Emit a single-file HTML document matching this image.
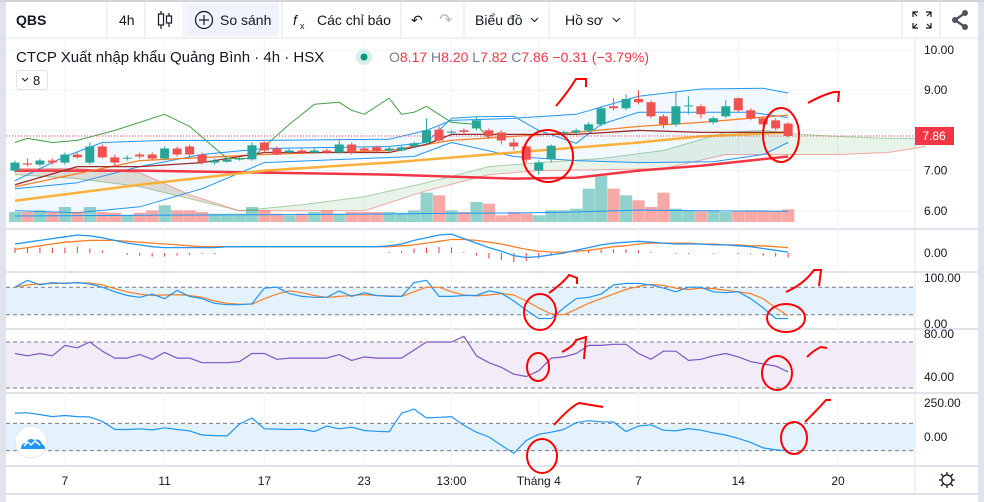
<!DOCTYPE html>
<html><head><meta charset="utf-8">
<style>
html,body{margin:0;padding:0;background:#fff;}
body{width:984px;height:502px;overflow:hidden;position:relative;font-family:"Liberation Sans","Noto Sans CJK SC",sans-serif;}
svg{position:absolute;left:0;top:0;}
.tb{font-size:14px;fill:#131722;}
.ax{font-size:12px;fill:#131722;}
</style></head>
<body>
<svg id="chart" width="984" height="502" viewBox="0 0 984 502">
<rect x="0" y="0" width="984" height="502" fill="#fff"/>
<rect x="0" y="0" width="6" height="502" fill="#e0e3eb"/>
<rect x="978" y="0" width="6" height="502" fill="#e0e3eb"/>
<rect x="0" y="0" width="984" height="2" fill="#d1d4dc"/>
<g>
<rect x="186" y="3" width="93" height="33" fill="#f0f3fa"/>
<line x1="6" y1="38" x2="978" y2="38" stroke="#e0e3eb"/>
<g stroke="#e0e3eb">
<line x1="107" y1="2" x2="107" y2="38"/><line x1="145" y1="2" x2="145" y2="38"/><line x1="184" y1="2" x2="184" y2="38"/>
<line x1="282" y1="2" x2="282" y2="38"/><line x1="401" y1="2" x2="401" y2="38"/><line x1="464" y1="2" x2="464" y2="38"/>
<line x1="549" y1="2" x2="549" y2="38"/><line x1="635" y1="2" x2="635" y2="38"/><line x1="902" y1="2" x2="902" y2="38"/><line x1="940" y1="2" x2="940" y2="38"/>
</g>
<text x="16" y="25" class="tb" font-weight="bold">QBS</text>
<text x="119" y="25" class="tb">4h</text>
<g stroke="#131722" fill="none" stroke-width="1.2">
<line x1="161" y1="11" x2="161" y2="29"/><rect x="158.5" y="14" width="5" height="11" fill="#fff"/>
<line x1="169" y1="13" x2="169" y2="27"/><rect x="166.5" y="16" width="5" height="7" fill="#fff"/>
</g>
<g>
<circle cx="204" cy="20" r="8.5" fill="none" stroke="#131722" stroke-width="1.2"/>
<line x1="199" y1="20" x2="209" y2="20" stroke="#131722" stroke-width="1.2"/><line x1="204" y1="15" x2="204" y2="25" stroke="#131722" stroke-width="1.2"/>
<text x="220" y="25" class="tb">So sánh</text></g>
<g>
<text x="293" y="25" class="tb" font-style="italic" font-size="17">f</text><text x="300" y="29" font-size="9" fill="#131722">x</text>
<text x="317" y="25" class="tb">Các chỉ báo</text></g>
<text x="411" y="25" class="tb" font-size="16">↶</text>
<text x="439" y="25" font-size="16" style="fill:#b2b5be">↷</text>
<g><text x="475" y="25" class="tb">Biểu đồ</text><path d="M531 18 l3.5 3.5 l3.5 -3.5" fill="none" stroke="#131722"/></g>
<g><text x="565" y="25" class="tb">Hồ sơ</text><path d="M613 18 l3.5 3.5 l3.5 -3.5" fill="none" stroke="#131722"/></g>
<g stroke="#131722" stroke-width="1.2" fill="none">
<path d="M913 17 v-5 h5 M913 12 l4 4 M931 17 v-5 h-5 M931 12 l-4 4 M913 23 v5 h5 M913 28 l4 -4 M931 23 v5 h-5 M931 28 l-4 -4"/></g>
<g fill="#50535e">
<circle cx="955" cy="20" r="3"/><circle cx="965" cy="13" r="3"/><circle cx="965" cy="27" r="3"/>
<path d="M955 20 L965 13 M955 20 L965 27" stroke="#50535e" stroke-width="2.4"/></g>
</g>
<line x1="915" y1="38" x2="915" y2="493" stroke="#e0e3eb"/>
<g stroke="#e0e3eb" stroke-width="2">
<line x1="6" y1="229" x2="978" y2="229"/><line x1="6" y1="272" x2="978" y2="272"/><line x1="6" y1="329" x2="978" y2="329"/><line x1="6" y1="393" x2="978" y2="393"/><line x1="6" y1="466" x2="978" y2="466"/><line x1="6" y1="494" x2="978" y2="494"/>
</g>
<g id="grid"></g>
<g id="panes"></g>
<g id="main"></g>
<g id="osc"></g>
<text x="16" y="62" font-size="15" fill="#131722">CTCP Xuất nhập khẩu Quảng Bình · 4h · HSX</text>
<circle cx="364" cy="57" r="8" fill="#d6efed"/><circle cx="364" cy="57" r="3.5" fill="#089981"/>
<text x="389" y="62" font-size="14" fill="#787b86">O<tspan fill="#f23645">8.17</tspan> H<tspan fill="#f23645">8.20</tspan> L<tspan fill="#f23645">7.82</tspan> C<tspan fill="#f23645">7.86 −0.31 (−3.79%)</tspan></text>
<g><rect x="16.5" y="70.5" width="31" height="19" rx="3" fill="#fff" stroke="#e0e3eb"/>
<path d="M22 78 l3 3 l3 -3" fill="none" stroke="#131722"/><text x="33" y="85" font-size="13" fill="#131722">8</text></g>
<line x1="6" y1="136" x2="915" y2="136" stroke="#f23645" stroke-dasharray="1,2"/>
<rect x="915" y="127" width="39" height="18" fill="#f23645"/>
<text x="934" y="140" font-size="12" fill="#fff" text-anchor="middle">7.86</text>
<g><circle cx="31" cy="442" r="16" fill="#fff" stroke="#e0e3eb"/>
<path d="M21 449 q0 -6 5 -6 q3 -6 8 -3 q6 -2 8 4 q3 1 3 5 z" fill="#2196f3"/><path d="M24 446 l4 -4 l3 3 l4 -4 l5 4" stroke="#fff" fill="none" stroke-width="1.5"/></g>
<g><circle cx="947" cy="480" r="5" fill="none" stroke="#131722" stroke-width="1.3"/>
<path d="M947 472v3M947 485v3M939 480h3M952 480h3M941 474l2 2M951 484l2 2M941 486l2-2M951 476l2-2" stroke="#131722" stroke-width="1.3"/></g>
<g fill="none" stroke="#ff0000" stroke-width="2">
<ellipse cx="548" cy="156" rx="25" ry="26" transform="rotate(-10 548 156)"/>
<ellipse cx="781" cy="135" rx="18" ry="27"/>
<path d="M556 106 q12 -14 20 -27 l10 0 l0 8"/><path d="M808 103 q14 -8 26 -11 l5 0 l-1 10"/>
<ellipse cx="540" cy="312" rx="16" ry="18"/><ellipse cx="786" cy="318" rx="19" ry="14"/>
<path d="M549 293 q14 -10 20 -18 l8 3 l0 6"/><path d="M786 292 q18 -8 28 -22 l7 0 l-2 16"/>
<ellipse cx="538" cy="367" rx="11" ry="14"/><ellipse cx="777" cy="373" rx="15" ry="17"/>
<path d="M562 352 q12 -6 14 -12 l10 -3 l-2 22"/><path d="M807 357 q7 -7 14 -10 l6 1"/>
<ellipse cx="542" cy="456" rx="15" ry="17"/><ellipse cx="794" cy="438" rx="13" ry="16"/>
<path d="M554 425 q16 -18 25 -22 l24 4"/><path d="M805 422 q14 -14 21 -22 l5 0"/>
</g>
<g id="xlabels"></g>
<g id="ylabels"></g>
</svg>
<script>
// ===== DATA =====
const candleOpen  = [7.0,7.18,7.15,7.25,7.2,7.4,7.2,7.6,7.33,7.3,7.4,7.4,7.3,7.55,7.6,7.4,7.2,7.22,7.28,7.28,7.7,7.55,7.45,7.5,7.45,7.5,7.45,7.65,7.55,7.58,7.5,7.5,7.6,7.7,8.02,7.95,8.0,8.05,8.0,7.95,7.7,7.6,7.0,7.28,7.93,7.95,8.0,8.15,8.6,8.55,8.78,8.7,8.35,8.15,8.6,8.6,8.2,8.35,8.8,8.5,8.3,8.25,8.17];
const candleClose = [7.2,7.15,7.25,7.2,7.4,7.33,7.6,7.33,7.2,7.32,7.35,7.3,7.55,7.4,7.4,7.2,7.25,7.28,7.3,7.63,7.5,7.4,7.5,7.45,7.5,7.45,7.65,7.45,7.5,7.5,7.55,7.58,7.68,8.0,7.75,7.97,7.96,8.25,7.85,7.75,7.6,7.27,7.2,7.62,7.96,8.0,8.15,8.55,8.55,8.78,8.7,8.35,8.15,8.6,8.62,8.4,8.3,8.6,8.5,8.3,8.15,8.05,7.86];
const candleHigh  = [7.25,7.3,7.3,7.3,7.45,7.45,7.7,7.65,7.4,7.38,7.45,7.45,7.6,7.6,7.65,7.45,7.3,7.32,7.35,7.7,7.72,7.6,7.55,7.55,7.55,7.55,7.75,7.7,7.6,7.62,7.6,7.62,7.72,8.3,8.1,8.0,8.05,8.35,8.05,8.0,7.8,7.65,7.25,7.65,8.0,8.05,8.2,8.6,8.8,8.9,9.0,8.75,8.4,8.95,8.85,8.65,8.35,8.75,8.82,8.55,8.35,8.3,8.2];
const candleLow   = [6.95,7.1,7.1,7.15,7.15,7.3,7.15,7.3,7.1,7.25,7.3,7.25,7.28,7.35,7.35,7.15,7.15,7.2,7.25,7.25,7.45,7.38,7.42,7.42,7.42,7.42,7.42,7.4,7.45,7.45,7.45,7.48,7.55,7.65,7.7,7.9,7.9,8.0,7.8,7.65,7.5,7.2,6.9,7.2,7.85,7.9,7.95,8.1,8.5,8.5,8.65,8.3,8.05,8.1,8.4,8.3,8.15,8.3,8.45,8.25,8.1,8.0,7.82];
const volume = [30,30,35,30,45,30,45,30,28,22,28,35,50,35,35,30,25,25,25,45,35,25,20,25,30,35,25,30,30,30,30,28,35,88,80,35,30,60,55,20,30,25,20,35,35,40,100,138,100,80,65,45,88,40,35,32,35,30,32,35,35,33,38];
const volMAIdx = [0,10,20,30,35,40,45,50,55,62];
const volMAVal = [18,20,22,24,26,27,30,36,34,32];
const bbUpIdx = [0,4,7,12,20,30,33,35,40,45,50,55,60,62];
const bbUpVal = [6.75,7.35,7.7,7.75,7.75,7.78,8.0,8.25,8.3,8.4,8.85,9.03,9.05,8.93];
const bbMidIdx = [0,5,10,15,20,30,33,35,37,40,42,45,47,50,55,59,62];
const bbMidVal = [6.55,6.7,7.1,7.4,7.55,7.6,7.7,8.3,8.34,8.35,8.0,7.68,8.15,8.45,8.45,8.45,8.32];
const bbLoIdx = [0,5,10,15,20,28,32,35,40,45,50,56,60,62];
const bbLoVal = [6.0,5.95,6.1,6.55,7.2,7.3,7.35,7.7,7.35,7.25,7.2,7.22,7.4,7.7];
const maOrIdx = [0,10,20,30,35,40,45,50,55,62];
const maOrVal = [6.6,7.25,7.4,7.5,7.75,7.85,7.95,8.1,8.2,8.38];
const maYeIdx = [0,10,20,30,40,50,55,62];
const maYeVal = [6.25,6.65,7.0,7.2,7.45,7.7,7.85,7.95];
const maRdIdx = [0,10,20,30,40,45,50,55,62];
const maRdVal = [7.0,7.0,6.95,6.9,6.8,6.82,7.0,7.12,7.35];
const kjIdx = [0,5,10,15,20,30,33,35,40,45,50,55,62];
const kjVal = [6.65,7.1,7.1,7.2,7.45,7.45,7.65,7.9,7.9,7.9,8.0,7.95,7.95];
const chkIdx = [0,1,3,5,8,12,14,17,19,20,22,24,26,27,28,29,30,31,32,33,35,37,38];
const chkVal = [7.7,7.8,7.7,7.75,8.0,8.4,8.1,7.3,7.3,7.6,8.15,8.65,8.7,8.5,8.4,8.6,8.8,8.4,8.45,8.6,8.2,8.15,7.8];
const spanIdx = [0,5,10,14,18,23,28,33,38,42,47,52,57,60,63,66,70,73];
const spanAVal = [6.9,6.8,6.6,6.3,6.0,6.15,6.35,6.7,7.1,7.2,7.3,7.5,7.95,8.0,7.9,7.85,7.8,7.8];
const spanBVal = [7.05,7.05,6.95,6.4,6.0,6.0,6.0,6.5,6.9,7.0,7.02,7.05,7.4,7.4,7.4,7.4,7.45,7.6];
const macdLine = [10,12,14,16,18,20,19,17,14,11,9,7,6,6,6,6,6,7,7,7,7,7,7,7,7,7,7,7,7,7,8,10,14,17,20,21,16,11,6,2,-3,-5,-4,-2,0,3,6,9,11,12,13,12,11,10,10,10,9,9,8,7,5,3,1];
const macdSignal = [4,6,8,10,12,13,14,14,14,13,12,11,10,9,8,7,7,7,7,7,7,7,7,7,7,7,7,7,7,7,7,8,9,11,13,15,15,14,12,10,7,4,2,1,1,2,3,5,7,8,10,11,11,11,11,10,10,9,9,8,8,7,6];
const stochK = [80,95,85,90,88,90,87,80,70,62,58,65,55,73,60,55,45,42,42,44,78,80,66,60,58,58,72,60,68,62,60,60,90,95,60,60,62,62,72,67,50,30,12,12,35,55,58,65,85,88,88,85,78,70,80,80,70,68,70,55,35,12,12];
const stochD = [80,85,87,88,89,90,89,85,77,70,65,62,63,64,62,58,50,45,43,43,55,65,72,68,62,58,60,62,64,62,61,60,70,80,80,70,63,61,63,66,63,50,35,22,20,32,45,55,65,75,82,86,84,78,75,78,77,73,70,66,55,35,18];
const rsi = [60,58,60,58,67,65,70,62,56,56,59,55,61,56,56,52,52,52,53,60,60,55,56,56,56,56,59,54,57,56,56,56,63,70,70,70,75,58,52,48,42,40,45,56,57,60,67,67,68,68,60,55,62,62,54,55,58,60,57,53,51,49,44];
const cci = [176,178,165,150,158,150,148,115,55,55,60,52,68,55,45,15,10,8,95,140,60,58,55,58,40,80,60,72,48,42,38,175,205,140,145,150,85,35,0,-60,-120,-25,20,35,55,105,120,112,110,40,80,90,50,45,62,50,30,15,-10,-40,-80,-95,-100];
const xTickIdx = [4,12,20,28,35,42,50,58,66];
const xTickLabels = ["7","11","17","23","13:00","Tháng 4","7","14","20"];
const priceTicks = [10,9,8,7,6];
const priceTickLabels = ["10.00","9.00","","7.00","6.00"];

// ===== SCALES =====
const NS = "http://www.w3.org/2000/svg";
const X = i => 15 + 12.47 * i;
const PY = p => 50 + (10 - p) * 40.2;
const VBASE = 222;
const VY = v => VBASE - v / 3;
const MY = v => 253 - v * 0.9;
const SY = v => 324 - v * 0.46;
const RY = v => 388 - (v - 30) * 1.15;
const CY = v => 437 - v * 0.136;

function mk(tag, attrs, parent) {
  const el = document.createElementNS(NS, tag);
  for (const k in attrs) el.setAttribute(k, attrs[k]);
  parent.appendChild(el);
  return el;
}
const main = document.getElementById('main');
const osc = document.getElementById('osc');
const grid = document.getElementById('grid');
const panes = document.getElementById('panes');

xTickIdx.forEach((ix, k) => {
  const l = mk('line', {x1: X(ix), x2: X(ix), y1: 38, y2: 466, stroke: '#f0f3fa'}, grid);
  
  
  const t = mk('text', {x: X(ix), y: 485, 'text-anchor': 'middle', class: 'ax'}, document.getElementById('xlabels'));
  t.textContent = xTickLabels[k];
  
  
});
priceTicks.forEach((p, k) => {
  const l = mk('line', {x1: 6, x2: 915, y1: PY(p), y2: PY(p), stroke: '#f0f3fa'}, grid);
  
  
  if (priceTickLabels[k]) {
    const t = mk('text', {x: 924, y: PY(p) + 4, class: 'ax'}, document.getElementById('ylabels'));
    t.textContent = priceTickLabels[k];
    
    
  }
});
[[924,257,'0.00'],[924,282,'100.00'],[924,328,'0.00'],[924,338,'80.00'],[924,381,'40.00'],[924,407,'250.00'],[924,441,'0.00']].forEach(a => {
  const t = mk('text', {x: a[0], y: a[1], class: 'ax'}, document.getElementById('ylabels'));
  t.textContent = a[2];
  
  
});

function band(y1, y2, fill, name) {
  const r = mk('rect', {x: 6, y: y1, width: 909, height: y2 - y1, fill: fill}, panes);
  
  
  [y1, y2].forEach(y => {
    const l = mk('line', {x1: 6, x2: 915, y1: y, y2: y, stroke: '#787b86', 'stroke-dasharray': '4,3'}, panes);
    
    
  });
}
band(SY(80), SY(20), '#e3f2fd', 'stoch-band');
band(RY(70), RY(30), '#f1ecf8', 'rsi-band');
band(CY(100), CY(-100), '#e3f2fd', 'cci-band');

function pts(idx, vals, sy) { return idx.map((ix, k) => X(ix).toFixed(1) + ',' + sy(vals[k]).toFixed(1)).join(' '); }
const seq = arr => arr.map((_, i) => i);
function line(idx, vals, sy, color, w, name, parent) {
  const p = mk('polyline', {points: pts(idx, vals, sy), fill: 'none', stroke: color, 'stroke-width': w, 'stroke-linejoin': 'round'}, parent);
  
  
  return p;
}
function area(idxA, valsA, idxB, valsB, sy, fill, name, parent) {
  const a = pts(idxA, valsA, sy);
  const b = idxB.map((ix, k) => X(ix).toFixed(1) + ',' + sy(valsB[k]).toFixed(1)).reverse().join(' ');
  const p = mk('polygon', {points: a + ' ' + b, fill: fill, stroke: 'none'}, parent);
  
  
}

area(spanIdx, spanAVal, spanIdx, spanBVal, PY, 'rgba(67,160,71,0.12)', 'ichimoku-cloud', main);
area(spanIdx.slice(0,5), spanAVal.slice(0,5), spanIdx.slice(0,5), spanBVal.slice(0,5), PY, 'rgba(244,67,54,0.12)', 'ichimoku-cloud-bear', main);
line(spanIdx, spanAVal, PY, 'rgba(67,160,71,0.45)', 1, 'span-a-line', main);
line(spanIdx, spanBVal, PY, 'rgba(244,67,54,0.45)', 1, 'span-b-line', main);
area(bbUpIdx, bbUpVal, bbLoIdx, bbLoVal, PY, 'rgba(33,150,243,0.06)', 'bollinger-fill', main);
line(bbUpIdx, bbUpVal, PY, '#2196f3', 1, 'bollinger-upper', main);
line(bbMidIdx, bbMidVal, PY, '#2196f3', 1, 'bollinger-inner', main);
line(bbLoIdx, bbLoVal, PY, '#2196f3', 1, 'bollinger-lower', main);

const vg = mk('g', {}, main);


volume.forEach((v, i) => {
  const up = candleClose[i] >= candleOpen[i];
  const r = mk('rect', {x: X(i) - 6, y: VY(v), width: 12.2, height: VBASE - VY(v), fill: up ? 'rgba(38,166,154,0.5)' : 'rgba(239,83,80,0.5)'}, vg);
  
  
});
line(volMAIdx, volMAVal, VY, '#2196f3', 1, 'volume-ma', main);

line(maRdIdx, maRdVal, PY, '#f23645', 2.5, 'ma-red', main);
line(maYeIdx, maYeVal, PY, '#fbb03b', 2.5, 'ma-yellow', main);
line(maOrIdx, maOrVal, PY, '#ff7f27', 1.3, 'ma-orange', main);
line(kjIdx, kjVal, PY, '#9c2b2b', 1.3, 'kijun-line', main);
line(chkIdx, chkVal, PY, '#43a047', 1, 'chikou-line', main);

const cg = mk('g', {}, main);


candleOpen.forEach((o, i) => {
  const c = candleClose[i];
  const col = c >= o ? '#26a69a' : '#ef5350';
  const w = mk('line', {x1: X(i), x2: X(i), y1: PY(candleHigh[i]), y2: PY(candleLow[i]), stroke: col}, cg);
  
  
  const top = PY(Math.max(o, c)), h = Math.max(1, Math.abs(PY(o) - PY(c)));
  const b = mk('rect', {x: X(i) - 4.5, y: top, width: 9, height: h, fill: col}, cg);
  
  
});

const hg = mk('g', {}, osc);


macdLine.forEach((m, i) => {
  const h = m - macdSignal[i];
  const l = mk('line', {x1: X(i), x2: X(i), y1: MY(0), y2: MY(h), stroke: '#f23645'}, hg);
  
  
});
line(seq(macdSignal), macdSignal, MY, '#ff7f27', 1.3, 'macd-signal', osc);
line(seq(macdLine), macdLine, MY, '#2196f3', 1.3, 'macd-line', osc);
line(seq(stochD), stochD, SY, '#ff7f27', 1.2, 'stoch-d', osc);
line(seq(stochK), stochK, SY, '#2196f3', 1.2, 'stoch-k', osc);
line(seq(rsi), rsi, RY, '#7e57c2', 1.2, 'rsi-line', osc);
line(seq(cci), cci, CY, '#2196f3', 1.2, 'cci-line', osc);
</script>
</body></html>
